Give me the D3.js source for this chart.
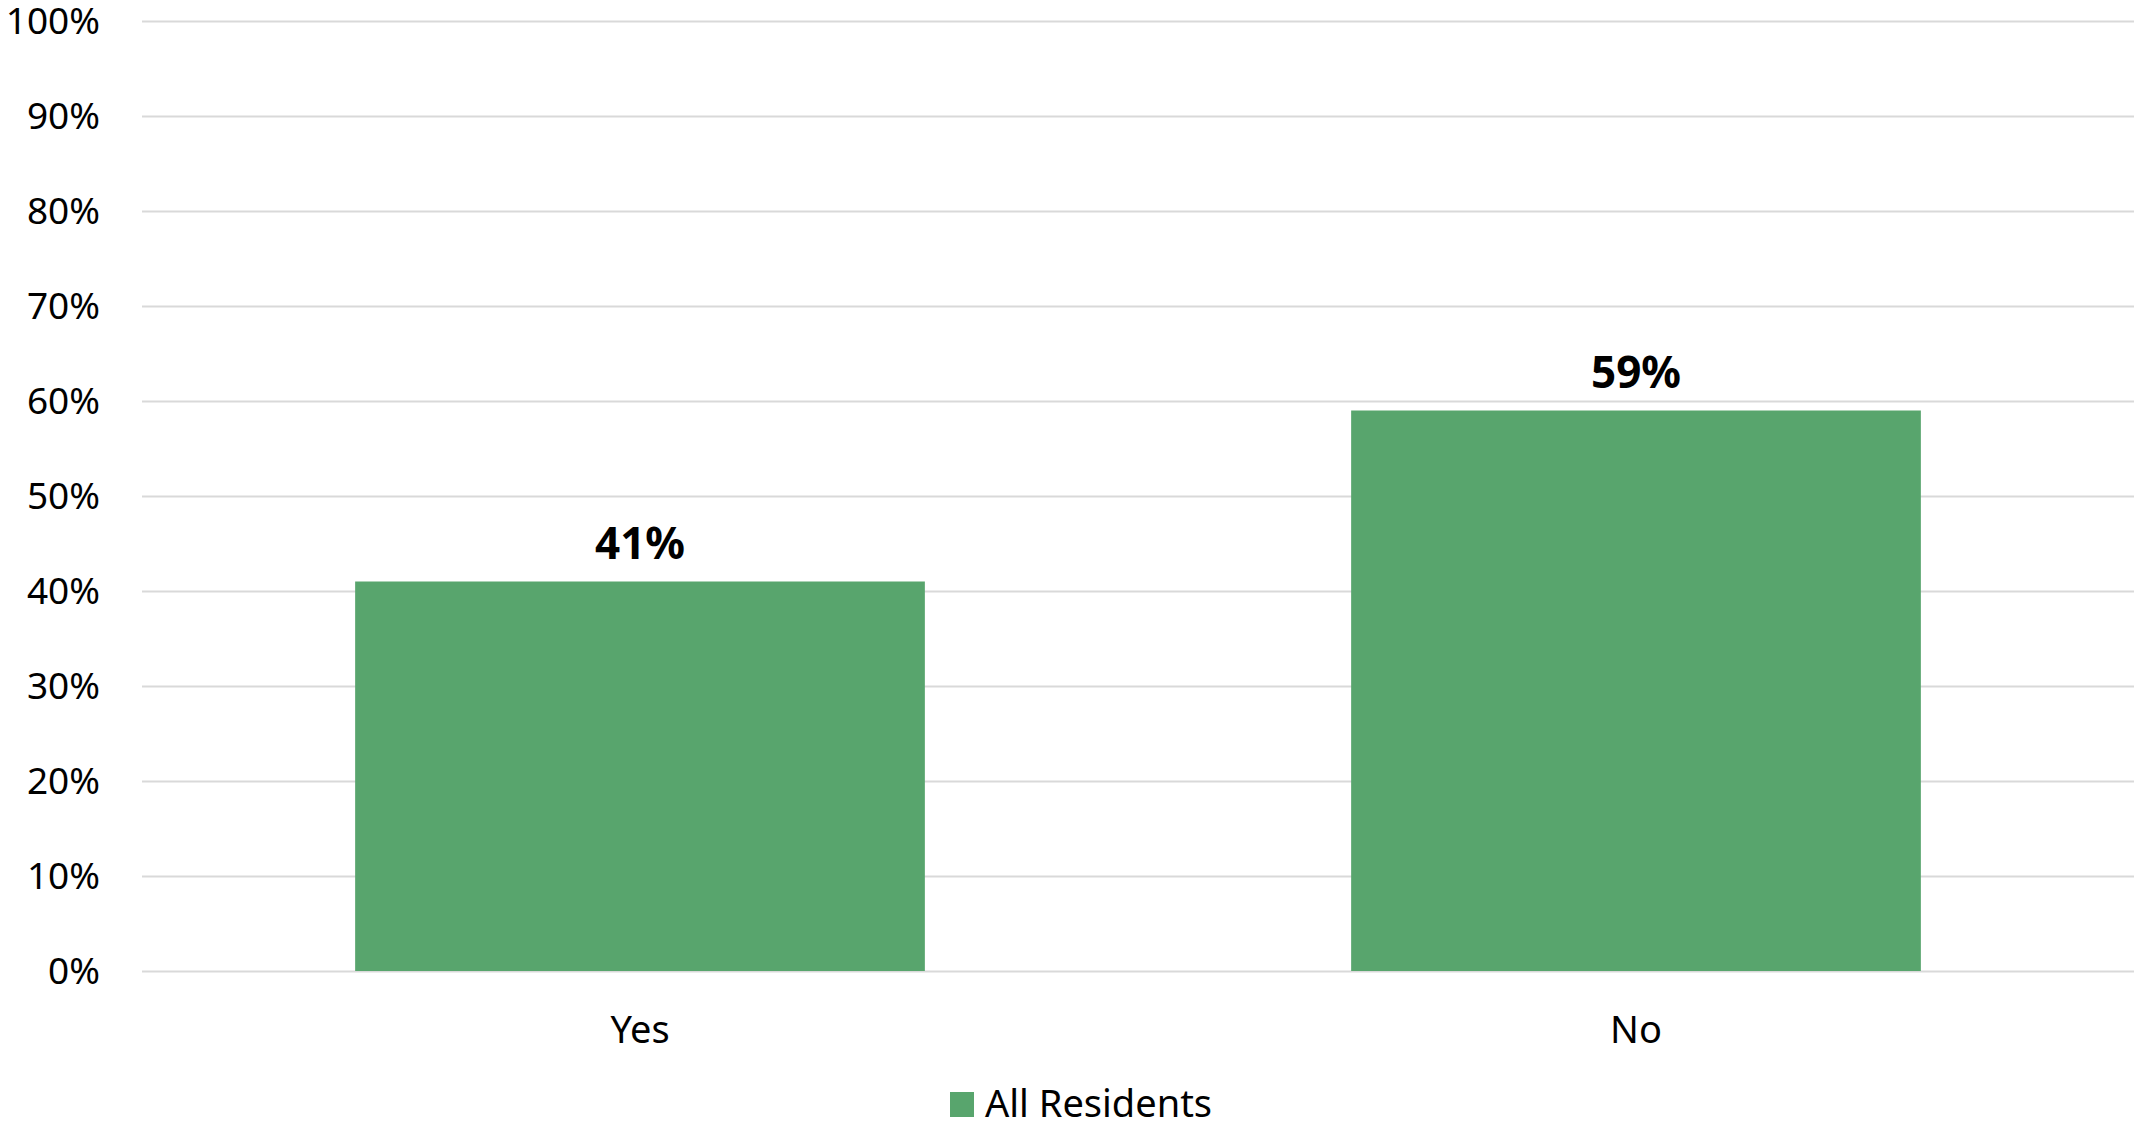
<!DOCTYPE html>
<html>
<head>
<meta charset="utf-8">
<script src="https://cdn.jsdelivr.net/npm/d3@7"></script>
<style>
  html, body { margin: 0; padding: 0; background: #fff; }
  svg { display: block; font-family: "Noto Sans", "Open Sans", sans-serif; }
</style>
</head>
<body>
<svg id="chart" width="2136" height="1124"></svg>
<script>
const categories = ["Yes", "No"];
const values = [41, 59];
const seriesName = "All Residents";
const yTicks = [0, 10, 20, 30, 40, 50, 60, 70, 80, 90, 100];

const W = 2136, H = 1124;
const margin = { left: 142, right: 2, top: 21, bottom: 153 };
const x0 = margin.left, x1 = W - margin.right;
const y0 = H - margin.bottom, y1 = margin.top;
const barColor = "#58A56D";

const svg = d3.select("#chart");

const x = d3.scaleBand().domain(categories).range([x0, x1])
  .paddingInner(0.428).paddingOuter(0.214);
const y = d3.scaleLinear().domain([0, 100]).range([y0, y1]);

// gridlines
const yAxis = d3.axisLeft(y).tickValues(yTicks).tickSize(-(x1 - x0)).tickPadding(0)
  .tickFormat(d => d + "%");
const gy = svg.append("g").attr("transform", `translate(${x0},0)`).call(yAxis);
gy.select(".domain").remove();
gy.selectAll(".tick line").attr("stroke", "#d9d9d9").attr("stroke-width", 2);
gy.selectAll(".tick text")
  .attr("x", -42).attr("dy", "0.34em")
  .attr("text-anchor", "end")
  .attr("fill", "#000")
  .style("font-size", "37px")
  .style("font-family", "'Noto Sans', sans-serif");

// bars
svg.append("g").selectAll("rect").data(categories).join("rect")
  .attr("x", d => x(d))
  .attr("width", x.bandwidth())
  .attr("y", (d, i) => y(values[i]))
  .attr("height", (d, i) => y(0) - y(values[i]))
  .attr("fill", barColor);

// value labels
svg.append("g").selectAll("text").data(categories).join("text")
  .attr("x", d => x(d) + x.bandwidth() / 2)
  .attr("y", (d, i) => y(values[i]) - 23)
  .attr("text-anchor", "middle")
  .attr("font-weight", "bold")
  .style("font-size", "44px")
  .attr("fill", "#000")
  .text((d, i) => values[i] + "%");

// x axis labels
const xAxis = d3.axisBottom(x).tickSize(0).tickPadding(0);
const gx = svg.append("g").attr("transform", `translate(0,${y0})`).call(xAxis);
gx.select(".domain").remove();
gx.selectAll(".tick text")
  .attr("y", 72).attr("dy", 0)
  .attr("fill", "#000")
  .style("font-size", "38px")
  .style("font-family", "'Noto Sans', sans-serif");

// legend
const lg = svg.append("g");
lg.append("rect").attr("x", 950).attr("y", 1092).attr("width", 24).attr("height", 25).attr("fill", barColor);
lg.append("text").attr("x", 985).attr("y", 1117).style("font-size", "38px").attr("fill", "#000").text(seriesName);
</script>
</body>
</html>
